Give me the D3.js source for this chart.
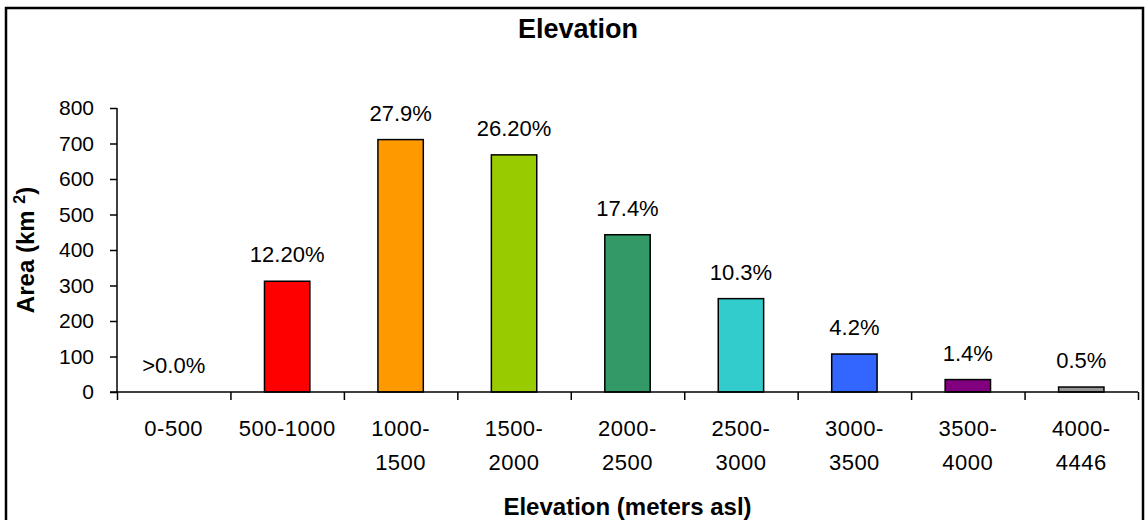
<!DOCTYPE html>
<html>
<head>
<meta charset="utf-8">
<script src="https://cdn.jsdelivr.net/npm/d3@7"></script>
<style>
  html, body { margin: 0; padding: 0; background: #fff; }
  svg { display: block; font-family: Arial, "Liberation Sans", sans-serif; }
</style>
</head>
<body>
<div id="chart"></div>
<script>
const categories = ['0-500', '500-1000', '1000-1500', '1500-2000', '2000-2500', '2500-3000', '3000-3500', '3500-4000', '4000-4446'];
const tickLines = [['0-500'], ['500-1000'], ['1000-', '1500'], ['1500-', '2000'], ['2000-', '2500'], ['2500-', '3000'], ['3000-', '3500'], ['3500-', '4000'], ['4000-', '4446']];
const areas = [0, 312, 711, 668, 443, 263, 107, 35, 14];
const pctLabels = ['>0.0%', '12.20%', '27.9%', '26.20%', '17.4%', '10.3%', '4.2%', '1.4%', '0.5%'];
const barColors = ['#808080', '#ff0000', '#ff9900', '#99cc00', '#339966', '#33cccc', '#3366ff', '#800080', '#969696'];
const yTicks = [0, 100, 200, 300, 400, 500, 600, 700, 800];

const width = 1146, height = 520;
const plot = { left: 117, right: 1138, top: 108, bottom: 392 };

const svg = d3.select('#chart').append('svg')
  .attr('width', width).attr('height', height);

// outer frame (bottom edge runs off the picture)
svg.append('rect')
  .attr('x', 6).attr('y', 8).attr('width', 1137).attr('height', 530)
  .attr('fill', '#fff').attr('stroke', '#000').attr('stroke-width', 2.5);

const x = d3.scaleBand().domain(categories)
  .range([plot.left, plot.right]).paddingInner(0.6).paddingOuter(0.3);
const xEdges = d3.scaleLinear().domain([0, categories.length]).range([plot.left, plot.right]);
const y = d3.scaleLinear().domain([0, 800]).range([plot.bottom, plot.top]);

// title
svg.append('text')
  .attr('x', 578).attr('y', 38)
  .attr('text-anchor', 'middle')
  .attr('font-size', 27).attr('font-weight', 'bold')
  .text('Elevation');

// Y axis
const yAxis = svg.append('g')
  .attr('transform', `translate(${plot.left},0)`)
  .call(d3.axisLeft(y).tickValues(yTicks).tickSize(7).tickPadding(16).tickFormat(d3.format('d')));
yAxis.select('.domain').attr('stroke', '#000').attr('stroke-width', 1.5).attr('d', `M0,${plot.top}V${plot.bottom}`);
yAxis.selectAll('.tick line').attr('stroke', '#000').attr('stroke-width', 1.5);
yAxis.selectAll('.tick text').attr('font-size', 21).attr('font-family', 'Arial, "Liberation Sans", sans-serif').attr('fill', '#000');

// bars
svg.append('g').selectAll('rect')
  .data(categories)
  .join('rect')
  .attr('x', d => x(d))
  .attr('y', (d, i) => y(areas[i]))
  .attr('width', x.bandwidth())
  .attr('height', (d, i) => y(0) - y(areas[i]))
  .attr('fill', (d, i) => barColors[i])
  .attr('stroke', '#000').attr('stroke-width', 1.5)
  .attr('visibility', (d, i) => areas[i] > 0 ? 'visible' : 'hidden');

// X axis: ticks on category boundaries
const xAxis = svg.append('g')
  .attr('transform', `translate(0,${plot.bottom})`)
  .call(d3.axisBottom(xEdges).tickValues(d3.range(categories.length + 1)).tickSize(8).tickFormat(''));
xAxis.select('.domain').attr('stroke', '#000').attr('stroke-width', 1.5).attr('d', `M${plot.left - 7},0H${plot.right}`);
xAxis.selectAll('.tick line').attr('stroke', '#000').attr('stroke-width', 1.5);

// category labels
const lbl = svg.append('g').selectAll('text')
  .data(categories)
  .join('text')
  .attr('x', d => x(d) + x.bandwidth() / 2)
  .attr('y', 436)
  .attr('text-anchor', 'middle')
  .attr('font-size', 22)
  .attr('letter-spacing', 0.5);
lbl.selectAll('tspan')
  .data((d, i) => tickLines[i])
  .join('tspan')
  .attr('x', function () { return this.parentNode.getAttribute('x'); })
  .attr('dy', (d, j) => j === 0 ? 0 : 34)
  .text(d => d);

// value labels
svg.append('g').selectAll('text')
  .data(categories)
  .join('text')
  .attr('x', d => x(d) + x.bandwidth() / 2)
  .attr('y', (d, i) => y(areas[i]) - 19)
  .attr('text-anchor', 'middle')
  .attr('font-size', 22)
  .text((d, i) => pctLabels[i]);

// axis titles
svg.append('text')
  .attr('x', (plot.left + plot.right) / 2).attr('y', 515)
  .attr('text-anchor', 'middle')
  .attr('font-size', 24).attr('font-weight', 'bold')
  .text('Elevation (meters asl)');

const yt = svg.append('text')
  .attr('transform', `translate(34,${(plot.top + plot.bottom) / 2}) rotate(-90)`)
  .attr('text-anchor', 'middle')
  .attr('font-size', 24).attr('font-weight', 'bold');
yt.append('tspan').text('Area (km ');
yt.append('tspan').attr('dy', -9).attr('font-size', 16).text('2');
yt.append('tspan').attr('dy', 9).text(')');
</script>
</body>
</html>
